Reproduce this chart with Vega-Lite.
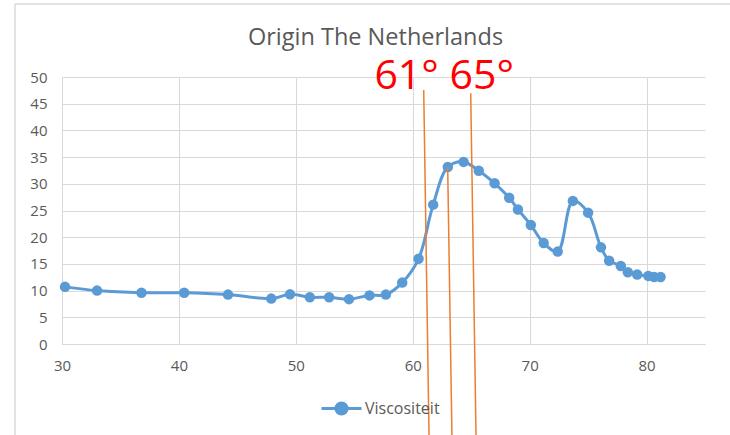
{
  "$schema": "https://vega.github.io/schema/vega-lite/v6.json",
  "width": 643,
  "height": 267,
  "autosize": {"type": "none"},
  "padding": {"left": 62, "top": 77, "right": 25, "bottom": 91},
  "background": "white",
  "config": {
    "view": {"stroke": null},
    "font": "Open Sans",
    "axisX": {
      "grid": true, "gridColor": "#D9D9D9", "gridWidth": 1,
      "domain": true, "domainColor": "#D9D9D9", "domainWidth": 1,
      "ticks": false, "labelFlush": false, "labelOverlap": false,
      "labelFont": "Open Sans", "labelFontSize": 15, "labelColor": "#595959",
      "labelPadding": 14, "title": null
    },
    "axisY": {
      "grid": true, "gridColor": "#D9D9D9", "gridWidth": 1,
      "domain": false, "ticks": false, "labelFlush": false, "labelOverlap": false,
      "labelFont": "Open Sans", "labelFontSize": 15, "labelColor": "#595959",
      "labelPadding": 15, "title": null
    }
  },
  "title": {
    "text": "Origin The Netherlands",
    "font": "Open Sans",
    "fontSize": 23.5,
    "fontWeight": "normal",
    "color": "#595959",
    "anchor": "middle",
    "baseline": "alphabetic",
    "offset": 0,
    "dy": 65,
    "dx": -8
  },
  "datasets": {
    "visc": [
      {"temp": 30.26, "visc": 10.7, "series": "Viscositeit"},
      {"temp": 33.0, "visc": 10.0, "series": "Viscositeit"},
      {"temp": 36.8, "visc": 9.6, "series": "Viscositeit"},
      {"temp": 40.45, "visc": 9.6, "series": "Viscositeit"},
      {"temp": 44.2, "visc": 9.25, "series": "Viscositeit"},
      {"temp": 47.9, "visc": 8.5, "series": "Viscositeit"},
      {"temp": 49.5, "visc": 9.3, "series": "Viscositeit"},
      {"temp": 51.2, "visc": 8.75, "series": "Viscositeit"},
      {"temp": 52.85, "visc": 8.75, "series": "Viscositeit"},
      {"temp": 54.55, "visc": 8.4, "series": "Viscositeit"},
      {"temp": 56.3, "visc": 9.1, "series": "Viscositeit"},
      {"temp": 57.7, "visc": 9.25, "series": "Viscositeit"},
      {"temp": 59.1, "visc": 11.5, "series": "Viscositeit"},
      {"temp": 60.5, "visc": 15.95, "series": "Viscositeit"},
      {"temp": 61.75, "visc": 26.1, "series": "Viscositeit"},
      {"temp": 63.0, "visc": 33.15, "series": "Viscositeit"},
      {"temp": 64.35, "visc": 34.1, "series": "Viscositeit"},
      {"temp": 65.65, "visc": 32.45, "series": "Viscositeit"},
      {"temp": 67.0, "visc": 30.1, "series": "Viscositeit"},
      {"temp": 68.25, "visc": 27.4, "series": "Viscositeit"},
      {"temp": 69.0, "visc": 25.2, "series": "Viscositeit"},
      {"temp": 70.1, "visc": 22.3, "series": "Viscositeit"},
      {"temp": 71.2, "visc": 18.9, "series": "Viscositeit"},
      {"temp": 72.4, "visc": 17.3, "series": "Viscositeit"},
      {"temp": 73.7, "visc": 26.8, "series": "Viscositeit"},
      {"temp": 75.0, "visc": 24.6, "series": "Viscositeit"},
      {"temp": 76.1, "visc": 18.1, "series": "Viscositeit"},
      {"temp": 76.8, "visc": 15.6, "series": "Viscositeit"},
      {"temp": 77.8, "visc": 14.6, "series": "Viscositeit"},
      {"temp": 78.4, "visc": 13.45, "series": "Viscositeit"},
      {"temp": 79.2, "visc": 13.0, "series": "Viscositeit"},
      {"temp": 80.15, "visc": 12.75, "series": "Viscositeit"},
      {"temp": 80.65, "visc": 12.55, "series": "Viscositeit"},
      {"temp": 81.2, "visc": 12.55, "series": "Viscositeit"}
    ],
    "marks": [
      {"x": 60.94, "y": 47.57, "x2": 61.4, "y2": -18},
      {"x": 62.99, "y": 33.09, "x2": 63.36, "y2": -18},
      {"x": 64.96, "y": 46.95, "x2": 65.42, "y2": -18}
    ],
    "frame": [
      {"x": 25.98, "y": 63.67, "x2": 25.98, "y2": -18},
      {"x": 25.98, "y": 63.67, "x2": 90, "y2": 63.67}
    ],
    "labels": [
      {"x": 62.69, "y": 47.8, "label": "61° 65°"}
    ]
  },
  "layer": [
    {
      "data": {"name": "frame"},
      "mark": {"type": "rule", "color": "#D9D9D9", "strokeWidth": 1.5, "clip": false},
      "encoding": {
        "x": {"field": "x", "type": "quantitative",
          "scale": {"domain": [30, 85], "nice": false, "zero": false},
          "axis": {"values": [30, 40, 50, 60, 70, 80]}},
        "y": {"field": "y", "type": "quantitative",
          "scale": {"domain": [0, 50], "nice": false},
          "axis": {"values": [0, 5, 10, 15, 20, 25, 30, 35, 40, 45, 50]}},
        "x2": {"field": "x2"},
        "y2": {"field": "y2"}
      }
    },
    {
      "data": {"name": "visc"},
      "mark": {"type": "line", "interpolate": "catmull-rom", "strokeWidth": 3},
      "encoding": {
        "x": {"field": "temp", "type": "quantitative",
          "axis": {"values": [30, 40, 50, 60, 70, 80]}},
        "y": {"field": "visc", "type": "quantitative",
          "axis": {"values": [0, 5, 10, 15, 20, 25, 30, 35, 40, 45, 50]}},
        "color": {
          "field": "series", "type": "nominal",
          "scale": {"range": ["#5B9BD5"]},
          "legend": {
            "title": null,
            "orient": "none",
            "legendX": 258,
            "legendY": 310,
            "symbolType": "M-1,0L1,0M-0.28,0a0.28,0.28 0 1,0 0.56,0a0.28,0.28 0 1,0 -0.56,0",
            "symbolSize": 1600,
            "symbolStrokeWidth": 3,
            "symbolFillColor": "#5B9BD5",
            "symbolStrokeColor": "#5B9BD5",
            "labelFont": "Open Sans",
            "labelFontSize": 16,
            "labelColor": "#595959",
            "labelOffset": 2
          }
        }
      }
    },
    {
      "data": {"name": "visc"},
      "mark": {"type": "point", "filled": true, "size": 110, "opacity": 1},
      "encoding": {
        "x": {"field": "temp", "type": "quantitative",
          "axis": {"values": [30, 40, 50, 60, 70, 80]}},
        "y": {"field": "visc", "type": "quantitative",
          "axis": {"values": [0, 5, 10, 15, 20, 25, 30, 35, 40, 45, 50]}},
        "color": {"field": "series", "type": "nominal"}
      }
    },
    {
      "data": {"name": "marks"},
      "mark": {"type": "rule", "color": "#ED7D31", "strokeWidth": 1.5, "clip": false},
      "encoding": {
        "x": {"field": "x", "type": "quantitative",
          "axis": {"values": [30, 40, 50, 60, 70, 80]}},
        "y": {"field": "y", "type": "quantitative",
          "axis": {"values": [0, 5, 10, 15, 20, 25, 30, 35, 40, 45, 50]}},
        "x2": {"field": "x2"},
        "y2": {"field": "y2"}
      }
    },
    {
      "data": {"name": "labels"},
      "mark": {"type": "text", "color": "#FF0000", "fontSize": 41, "font": "Open Sans", "align": "center", "baseline": "alphabetic", "clip": false},
      "encoding": {
        "x": {"field": "x", "type": "quantitative",
          "axis": {"values": [30, 40, 50, 60, 70, 80]}},
        "y": {"field": "y", "type": "quantitative",
          "axis": {"values": [0, 5, 10, 15, 20, 25, 30, 35, 40, 45, 50]}},
        "text": {"field": "label"}
      }
    }
  ]
}
